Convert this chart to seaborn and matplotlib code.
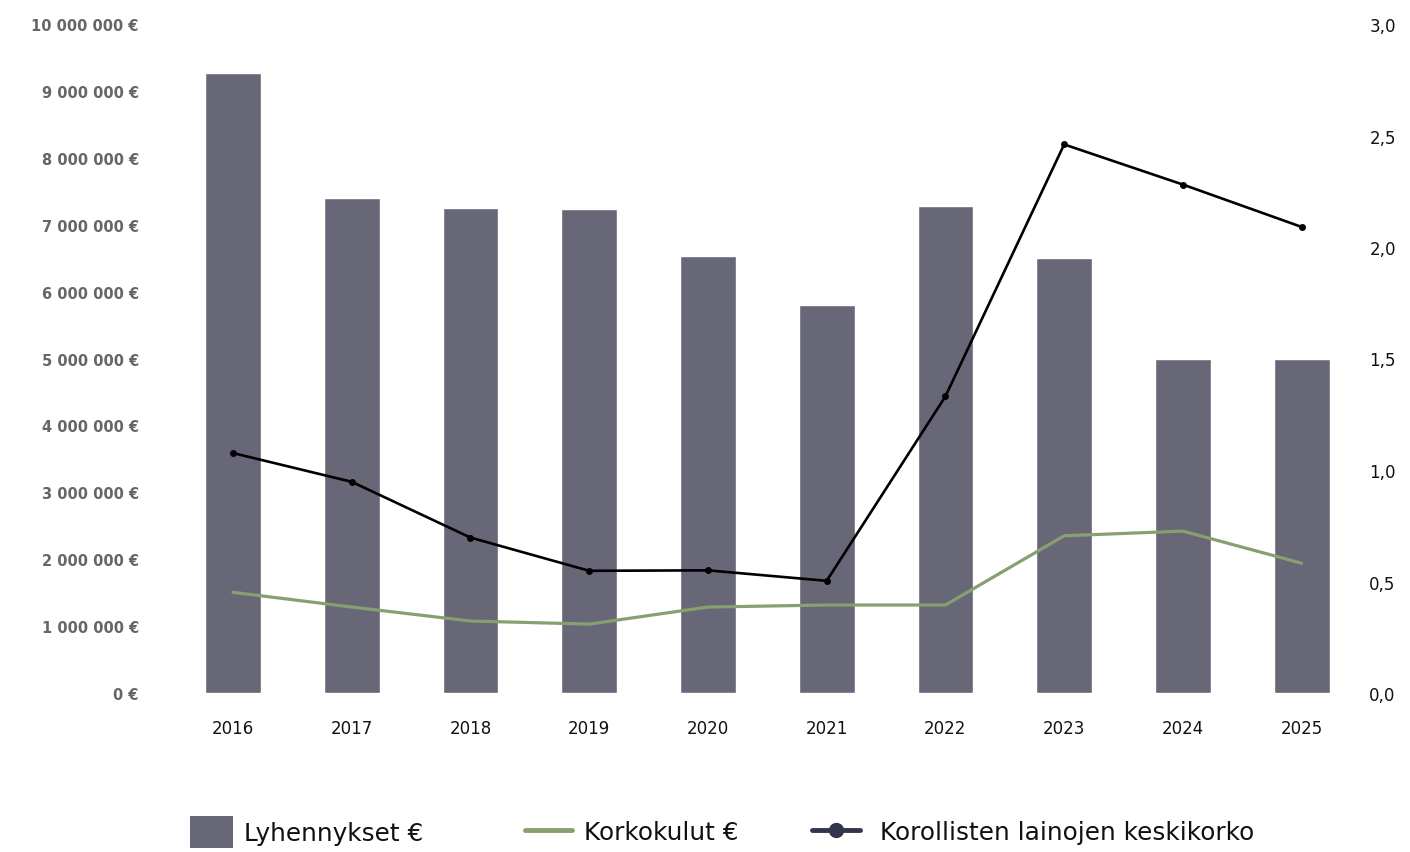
import matplotlib
matplotlib.use("Agg")
import matplotlib.pyplot as plt
from matplotlib.patches import Patch
from matplotlib.lines import Line2D
from matplotlib.ticker import FuncFormatter, FixedLocator
import seaborn as sns
import pandas as pd

years = ["2016", "2017", "2018", "2019", "2020", "2021", "2022", "2023", "2024", "2025"]
lyhennykset = [9270000, 7400000, 7250000, 7230000, 6530000, 5800000, 7280000, 6500000, 5000000, 5000000]
korkokulut = [1505000, 1285000, 1076000, 1030000, 1285000, 1315000, 1315000, 2350000, 2420000, 1940000]
keskikorko = [1.076, 0.947, 0.697, 0.548, 0.550, 0.503, 1.330, 2.460, 2.280, 2.090]

left_ticks = [0, 1000000, 2000000, 3000000, 4000000, 5000000, 6000000, 7000000, 8000000, 9000000, 10000000]
right_ticks = [0.0, 0.5, 1.0, 1.5, 2.0, 2.5, 3.0]

labels = ["Lyhennykset €", "Korkokulut €", "Korollisten lainojen keskikorko"]

bar_color = "#686778"
green = "#86a070"
black = "#000000"
legend_dark = "#33354a"

df = pd.DataFrame({"year": years, "lyh": lyhennykset, "kork": korkokulut, "kk": keskikorko})

sns.set_theme(style="white")
plt.rcParams["font.family"] = ["DejaVu Sans"]

fig = plt.figure(figsize=(14.1, 8.53), dpi=100)
ax = fig.add_axes([173.6 / 1410, 159 / 853, (1361 - 173.6) / 1410, (694 - 25) / 853])

sns.barplot(data=df, x="year", y="lyh", color=bar_color, width=0.47, ax=ax, saturation=1, zorder=1)
sns.lineplot(data=df, x="year", y="kork", color=green, linewidth=2.3, ax=ax, sort=False, zorder=3)

ax2 = ax.twinx()
sns.lineplot(data=df, x="year", y="kk", color=black, linewidth=1.9, marker="o", markersize=5,
             markeredgewidth=0, ax=ax2, sort=False, zorder=4)

ax.set_xlim(-0.5, 9.5)
ax.set_ylim(0, 10000000)
ax2.set_ylim(0, 3.0)

ax.yaxis.set_major_locator(FixedLocator(left_ticks))
ax.yaxis.set_major_formatter(FuncFormatter(lambda v, p: f"{int(v):,}".replace(",", " ") + " €"))
ax2.yaxis.set_major_locator(FixedLocator(right_ticks))
ax2.yaxis.set_major_formatter(FuncFormatter(lambda v, p: f"{v:.1f}".replace(".", ",")))

for a in (ax, ax2):
    for s in a.spines.values():
        s.set_visible(False)
    a.set_xlabel("")
    a.set_ylabel("")
    a.tick_params(length=0)
    a.grid(False)

ax.tick_params(axis="y", labelsize=10.5, labelcolor="#666666", pad=25)
for t in ax.get_yticklabels():
    t.set_fontweight("bold")
ax.tick_params(axis="x", labelsize=12, labelcolor="#111111", pad=19)
ax2.tick_params(axis="y", labelsize=12, labelcolor="#111111", pad=6)

if ax.get_legend():
    ax.get_legend().remove()
if ax2.get_legend():
    ax2.get_legend().remove()

fs = 17.8
h1 = Patch(facecolor=bar_color, edgecolor="none")
h2 = Line2D([], [], color=green, linewidth=3.5)
h3 = Line2D([], [], color=legend_dark, linewidth=3.5, marker="o", markersize=10)

leg1 = fig.legend([h1], [labels[0]], loc="center left", bbox_to_anchor=(190 / 1410, 20 / 853),
                  frameon=False, fontsize=fs, handlelength=1.75, handleheight=1.65, handletextpad=0.45,
                  borderaxespad=0, borderpad=0)
leg2 = fig.legend([h2], [labels[1]], loc="center left", bbox_to_anchor=(525 / 1410, 20 / 853),
                  frameon=False, fontsize=fs, handlelength=1.9, handletextpad=0.5,
                  borderaxespad=0, borderpad=0)
leg3 = fig.legend([h3], [labels[2]], loc="center left", bbox_to_anchor=(812 / 1410, 20 / 853),
                  frameon=False, fontsize=fs, handlelength=1.95, handletextpad=0.8,
                  borderaxespad=0, borderpad=0)
for lg in (leg1, leg2, leg3):
    for t in lg.get_texts():
        t.set_color("#111111")

fig.savefig("out.png", dpi=100)
